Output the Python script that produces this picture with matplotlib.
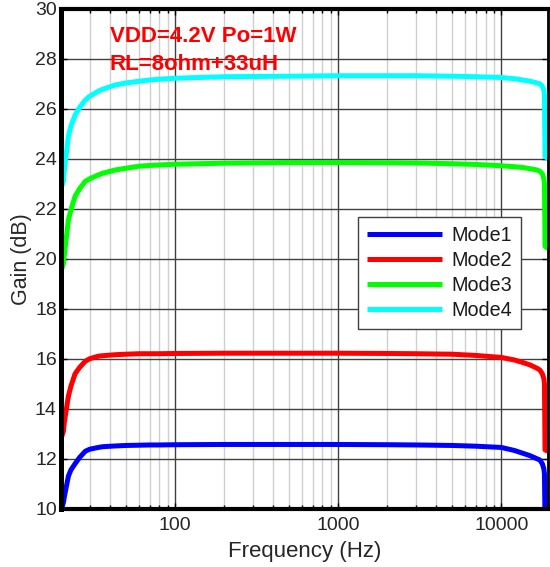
import matplotlib
matplotlib.use("Agg")
import matplotlib.pyplot as plt
from matplotlib.ticker import LogLocator, NullFormatter, FixedLocator, FixedFormatter

plt.rcParams['font.family'] = ['Liberation Sans', 'DejaVu Sans']

# Frequency points (Hz)
freq = [20, 20.7, 21, 22.2, 23, 24.4, 26, 28.2, 30, 33.8, 36, 43, 50, 60, 70, 80,
        100, 200, 500, 1000, 2000, 3000, 5000, 7000, 10000, 12000, 13500, 15000,
        16500, 17200, 17800, 18200, 18350, 18500, 19300]

mode1 = [9.9, 10.25, 10.5, 11.3, 11.55, 11.8, 12.05, 12.3, 12.38, 12.45, 12.48,
         12.51, 12.53, 12.54, 12.55, 12.55, 12.56, 12.57, 12.57, 12.57, 12.56,
         12.55, 12.53, 12.5, 12.45, 12.33, 12.22, 12.12, 12.0, 11.95, 11.8, 11.6,
         11.4, 9.5, 9.0]
mode2 = [12.8, 13.1, 13.5, 14.5, 14.9, 15.4, 15.65, 15.9, 16.0, 16.1, 16.12,
         16.16, 16.18, 16.2, 16.2, 16.2, 16.21, 16.22, 16.22, 16.22, 16.21,
         16.2, 16.18, 16.13, 16.05, 15.95, 15.85, 15.75, 15.62, 15.55, 15.4, 15.2,
         15.0, 12.35, 12.3]
mode3 = [19.5, 19.8, 20.2, 21.55, 21.95, 22.5, 22.8, 23.1, 23.2, 23.35, 23.42,
         23.55, 23.62, 23.7, 23.73, 23.75, 23.78, 23.82, 23.85, 23.85, 23.84,
         23.83, 23.8, 23.77, 23.72, 23.68, 23.65, 23.6, 23.55, 23.5, 23.4, 23.2,
         23.0, 20.5, 20.4]
mode4 = [22.8, 23.1, 23.6, 24.9, 25.3, 25.75, 26.05, 26.35, 26.5, 26.7, 26.78,
         26.95, 27.03, 27.1, 27.15, 27.18, 27.22, 27.28, 27.3, 27.32, 27.32,
         27.32, 27.3, 27.28, 27.25, 27.2, 27.15, 27.1, 27.03, 27.0, 26.9, 26.75,
         26.55, 24.1, 24.0]

series = [("Mode1", mode1, "#0000ff"), ("Mode2", mode2, "#ff0000"),
          ("Mode3", mode3, "#00ff00"), ("Mode4", mode4, "#00ffff")]

xticks = [100, 1000, 10000]
xticklabels = ["100", "1000", "10000"]
yticks = [10, 12, 14, 16, 18, 20, 22, 24, 26, 28, 30]

fig = plt.figure(figsize=(5.5, 5.67), dpi=100)
ax = fig.add_axes([0.1109, 0.1028, 0.8855, 0.8818])

for name, vals, col in series:
    ax.plot(freq, vals, color=col, lw=3.6, label=name,
            solid_capstyle='butt', solid_joinstyle='round')

ax.set_xscale('log')
ax.set_xlim(20, 19300)
ax.set_ylim(10, 30)
ax.xaxis.set_major_locator(FixedLocator(xticks))
ax.xaxis.set_major_formatter(FixedFormatter(xticklabels))
ax.xaxis.set_minor_locator(LogLocator(base=10, subs=range(2, 10)))
ax.xaxis.set_minor_formatter(NullFormatter())
ax.set_yticks(yticks)

ax.grid(which='major', color='#404040', lw=1.0)
ax.grid(which='minor', axis='x', color='#cfcfcf', lw=1.0)
ax.set_axisbelow(True)

ax.tick_params(which='both', direction='in', top=True, right=True,
               labelsize=14, labelcolor='#262626', color='black')
ax.tick_params(which='major', length=4, width=1)
ax.tick_params(which='minor', length=3, width=1)
ax.tick_params(axis='y', which='major', pad=3)
ax.tick_params(axis='x', which='major', pad=6)

for side, w in [('left', 3.6), ('bottom', 3.0), ('top', 3.0), ('right', 2.0)]:
    ax.spines[side].set_linewidth(w)
    ax.spines[side].set_color('black')

ax.set_xlabel("Frequency (Hz)", fontsize=16, color='#262626', labelpad=5)
ax.set_ylabel("Gain (dB)", fontsize=15.5, color='#262626', labelpad=2)

ax.text(0.10, 0.934, "VDD=4.2V Po=1W", transform=ax.transAxes, color='#ff0000',
        fontsize=16, fontweight='bold', va='baseline', ha='left')
ax.text(0.10, 0.877, "RL=8ohm+33uH", transform=ax.transAxes, color='#ff0000',
        fontsize=16, fontweight='bold', va='baseline', ha='left')

leg = ax.legend(loc='upper left', bbox_to_anchor=(0.6105, 0.583), fontsize=14.2,
                handlelength=3.8, handletextpad=0.45, labelspacing=0.3,
                borderpad=0.45, borderaxespad=0, frameon=True, fancybox=False,
                framealpha=1, edgecolor='#404040')
leg.get_frame().set_linewidth(1.0)
for t in leg.get_texts():
    t.set_color('#1a1a1a')

fig.savefig("out.png", dpi=100)
